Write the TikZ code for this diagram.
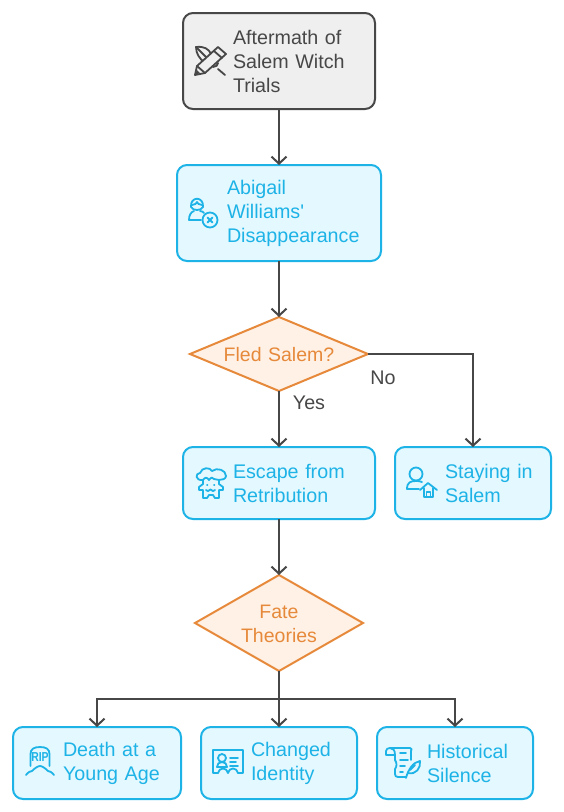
\documentclass[tikz,border=0pt]{standalone}
\usepackage{fontspec}
\setmainfont[WordSpace=0.85]{Liberation Sans}
\usetikzlibrary{arrows.meta,shapes.geometric}
\definecolor{linegray}{HTML}{474747}
\definecolor{boxgray}{HTML}{EFEFEF}
\definecolor{boxblue}{HTML}{E4F8FF}
\definecolor{lineblue}{HTML}{1DB3E6}
\definecolor{boxorange}{HTML}{FFF1E5}
\definecolor{lineorange}{HTML}{E6893A}
\tikzset{
  flowbox/.style={draw=lineblue, fill=boxblue, text=lineblue, rounded corners=10pt, line width=2pt,
    inner sep=0pt, outer sep=0pt, align=left, font=\fontsize{19.7}{24}\selectfont},
  startbox/.style={flowbox, draw=linegray, fill=boxgray, text=linegray},
  textpad/.style={execute at begin node={\leftskip=#1pt\relax\rule{0pt}{16pt}}},
  decision/.style={diamond, draw=lineorange, fill=boxorange, text=lineorange, line width=2pt,
    inner sep=0pt, outer sep=0pt, align=center, font=\fontsize{19.5}{24}\selectfont,
    execute at begin node={\rule{0pt}{15pt}}},
  flow/.style={draw=linegray, line width=2pt, -{Straight Barb[length=7pt,width=15pt,line width=2pt]}},
  branch/.style={font=\fontsize{19.7}{24}\selectfont, text=linegray, inner sep=0pt},
  icon/.style={draw=lineblue, line width=1.8pt, line join=round, line cap=round},
}
\begin{document}
\begin{tikzpicture}[x=1pt, y=-1pt]
  \useasboundingbox (0,0) rectangle (564,812);
  % boxes, top to bottom
  \node[startbox, text width=192pt, minimum height=96pt, textpad=50] (aftermath) at (279,61) {Aftermath of\\Salem Witch\\Trials};
  \node[flowbox, text width=204pt, minimum height=96pt, textpad=50] (abigail) at (279,213) {Abigail\\Williams\textquotesingle\\Disappearance};
  \node[decision, text width=112pt, minimum width=178pt, minimum height=74pt, shape aspect=2.4] (fled) at (279,354) {Fled Salem?};
  \node[flowbox, text width=192pt, minimum height=72pt, textpad=50] (escape) at (279,483) {Escape from\\Retribution};
  \node[flowbox, text width=156pt, minimum height=72pt, textpad=50] (staying) at (473,483) {Staying in\\Salem};
  \node[decision, text width=80pt, minimum width=168pt, minimum height=96pt, shape aspect=1.75] (fate) at (279,623) {Fate\\Theories};
  \node[flowbox, text width=168pt, minimum height=72pt, textpad=50] (death) at (97,763) {Death at a\\Young Age};
  \node[flowbox, text width=156pt, minimum height=72pt, textpad=50] (changed) at (279,763) {Changed\\Identity};
  \node[flowbox, text width=156pt, minimum height=72pt, textpad=50] (silence) at (455,763) {Historical\\Silence};

  % connectors
  \coordinate (split) at (279,699);
  \draw[flow] (aftermath) -- (abigail);
  \draw[flow] (abigail) -- (fled);
  \draw[flow] (fled) -- (escape);
  \draw[flow] (fled.east) -| (staying.north);
  \draw[flow] (escape) -- (fate);
  \draw[flow] (fate) -- (changed);
  \draw[flow] (split) -| (death.north);
  \draw[flow] (split) -| (silence.north);
  \node[branch] (yes) at (309,403) {Yes};
  \node[branch] (no) at (383,378) {No};

  % icons
  \begin{scope}[shift={(210,61)}, icon, draw=linegray]
    \draw (-14,-14) .. controls (-6,-15) and (-1,-12) .. (1,-7);
    \draw (-14,-14) .. controls (-14,-7) and (-10,-2) .. (-6,1);
    \draw (-14,-14) -- (-3,-3);
    \draw (3,6) .. controls (6,6) and (8,4) .. (8,2);
    \draw (8,8) -- (15,14);
    \draw[fill=boxgray] (-15,14) -- (-13,5) -- (8,-14) -- (16,-7) -- (-5,12) -- cycle;
    \draw (4,-10) -- (12,-3) (-13,5) -- (-5,12);
    \fill[linegray] (-15,14) -- (-13,9) -- (-10,12) -- cycle;
  \end{scope}
  \begin{scope}[shift={(200,212)}, icon]
    \draw (-9,-5) .. controls (-10,-16) and (4,-16) .. (3,-5) .. controls (1,-1) and (-7,-1) .. (-9,-5);
    \draw (-8,-7) .. controls (-5,-7) and (-3,-9) .. (-3,-10) .. controls (-3,-9) and (-1,-7) .. (2,-7);
    \draw (-11,8) .. controls (-11,3) and (-9,0) .. (-6,-1);
    \draw (0,-1) .. controls (2,-1) and (3,0) .. (4,1);
    \draw (-11,8) -- (1,8);
    \draw (10,8) circle (7.5);
    \draw (7.5,5.5) -- (12.5,10.5) (12.5,5.5) -- (7.5,10.5);
  \end{scope}
  \begin{scope}[shift={(210,483)}, icon]
    \draw (-7,-3) .. controls (-15,-2) and (-15,-10) .. (-10,-10) .. controls (-8,-16) and (0,-16) .. (2,-12)
      .. controls (7,-16) and (16,-13) .. (16,-7) .. controls (16,-4) and (12,-3) .. (9,-3);
    \draw (-7,-3) .. controls (-5,-6) and (-3,-6) .. (-1,-3) .. controls (1,-6) and (3,-6) .. (4,-4) -- (9,-3);
    \draw (-7,-3) -- (-7,1) -- (-11,4) -- (-11,7) -- (-7,7) -- (-7,15) -- (-3,15) -- (-1,12) -- (3,12) -- (5,15) -- (9,15) -- (9,7) -- (13,7) -- (13,4) -- (9,1) -- (9,-3);
    \draw (-3,2) -- (-2.5,2) (4,2) -- (4.5,2) (-4,7) -- (-2,8) -- (0.5,6.5) -- (3,8) -- (5,7);
  \end{scope}
  \begin{scope}[shift={(422,483)}, icon]
    \draw (-6,-9) circle (6.5);
    \draw (-15,6) .. controls (-15,-1) and (-11,-2) .. (-6,-2) .. controls (-4,-2) and (-2,-2) .. (0,-1);
    \draw (-15,6) -- (-3,6);
    \draw (-2,7) -- (6,0) -- (15,7);
    \draw (2,5) -- (2,14) -- (11,14) -- (11,5);
    \draw (4.5,14) -- (4.5,9) -- (8.5,9) -- (8.5,14);
  \end{scope}
  \begin{scope}[shift={(40,763)}, icon]
    \draw (-9.5,3) -- (-9.5,-9) .. controls (-9.5,-14) and (-6,-16) .. (0,-16) .. controls (6,-16) and (9.5,-14) .. (9.5,-9) -- (9.5,3);
    \draw (-14,12) .. controls (-12,9) and (-9,8) .. (-8,8) .. controls (-5,5) and (-2,3) .. (0,3) .. controls (2,3) and (5,5) .. (8,8) .. controls (9,8) and (12,9) .. (14,12);
    \node[inner sep=0pt, text=lineblue, xscale=.8, font=\bfseries\fontsize{13}{14}\selectfont] (rip) at (0,-5.5) {RIP};
  \end{scope}
  \begin{scope}[shift={(228,763)}, icon]
    \draw (-10,10) -- (-15,10) -- (-15,-13) -- (15,-13) -- (15,10) -- (10,10);
    \draw (-10,10) .. controls (-9,4) and (-1,4) .. (0,10) .. controls (1,4) and (9,4) .. (10,10);
    \draw (-6,-5) circle (4);
    \draw (-11,4) .. controls (-11,1) and (-9,-1) .. (-6,-1) .. controls (-3,-1) and (-1,1) .. (-1,4) -- cycle;
    \draw (2,-5) -- (10,-5) (2,-1) -- (8,-1) (2,3) -- (10,3);
  \end{scope}
  \begin{scope}[shift={(403,763)}, icon]
    \draw (-8,-8) -- (-17,-8) -- (-17,-12) .. controls (-17,-14) and (-15,-15) .. (-13,-15) -- (7,-15) .. controls (9,-15) and (9,-13) .. (8,-12) -- (8,-3);
    \draw (-13,-15) .. controls (-10,-15) and (-8,-13) .. (-8,-8) -- (-8,-3) .. controls (-6,0) and (-6,3) .. (-8,6) -- (-8,11) .. controls (-8,13) and (-7,14) .. (-5,14) -- (3,14);
    \draw (-3,-10) -- (3,-10) (-3,-3) -- (5,-3) (-3,3) -- (2,3) (-3,9) -- (0,9);
    \draw (3,15) .. controls (5,7) and (10,-1) .. (17,-2) .. controls (18,5) and (13,12) .. (5,10);
    \draw (7,7) -- (12,2);
  \end{scope}
\end{tikzpicture}
\end{document}
